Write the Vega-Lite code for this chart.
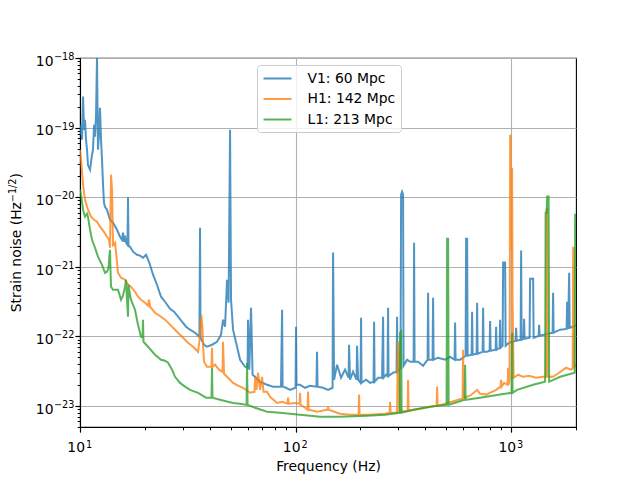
{
  "$schema": "https://vega.github.io/schema/vega-lite/v6.json",
  "width": 496,
  "height": 369,
  "autosize": {"type": "none"},
  "padding": {"left": 80, "top": 58, "right": 64, "bottom": 53},
  "datasets": {
    "asd": [
      {"d":"V1","f":10.0,"s":7.9e-20},{"d":"V1","f":10.11,"s":1.1e-19},{"d":"V1","f":10.22,"s":6.7e-20},{"d":"V1","f":10.33,"s":2.8e-19},
      {"d":"V1","f":10.44,"s":9.3e-20},{"d":"V1","f":10.55,"s":1.3e-19},{"d":"V1","f":10.66,"s":6.7e-20},{"d":"V1","f":10.78,"s":4.8e-20},
      {"d":"V1","f":10.89,"s":2.9e-20},{"d":"V1","f":11.13,"s":2.48e-20},{"d":"V1","f":11.37,"s":4.08e-20},{"d":"V1","f":11.49,"s":4.8e-20},
      {"d":"V1","f":11.62,"s":1.1e-19},{"d":"V1","f":11.74,"s":7.39e-20},{"d":"V1","f":11.87,"s":1.53e-19},{"d":"V1","f":11.99,"s":1e-18},
      {"d":"V1","f":12.12,"s":4.8e-20},{"d":"V1","f":12.25,"s":7.9e-20},{"d":"V1","f":12.38,"s":1.93e-19},{"d":"V1","f":12.52,"s":6.7e-20},
      {"d":"V1","f":12.65,"s":3.46e-20},{"d":"V1","f":12.79,"s":1.51e-20},{"d":"V1","f":12.92,"s":8.34e-21},{"d":"V1","f":13.06,"s":7.3e-21},
      {"d":"V1","f":13.34,"s":6.61e-21},{"d":"V1","f":13.78,"s":4.75e-21},{"d":"V1","f":14.23,"s":4.3e-21},{"d":"V1","f":14.85,"s":3.41e-21},
      {"d":"V1","f":15.33,"s":2.71e-21},{"d":"V1","f":15.66,"s":2.45e-21},{"d":"V1","f":15.83,"s":3.09e-21},{"d":"V1","f":16.01,"s":2.29e-21},
      {"d":"V1","f":16.18,"s":2.8e-21},{"d":"V1","f":16.35,"s":2.22e-21},{"d":"V1","f":16.61,"s":2.07e-21},{"d":"V1","f":16.7,"s":1e-20},
      {"d":"V1","f":16.79,"s":2.01e-21},{"d":"V1","f":17.06,"s":1.94e-21},{"d":"V1","f":17.62,"s":1.65e-21},{"d":"V1","f":18.39,"s":1.49e-21},
      {"d":"V1","f":18.98,"s":1.45e-21},{"d":"V1","f":19.6,"s":1.35e-21},{"d":"V1","f":20.25,"s":1.49e-21},{"d":"V1","f":20.9,"s":1.18e-21},
      {"d":"V1","f":21.82,"s":7.7e-22},{"d":"V1","f":22.76,"s":5.53e-22},{"d":"V1","f":23.76,"s":3.72e-22},{"d":"V1","f":24.8,"s":3.15e-22},
      {"d":"V1","f":26.16,"s":2.5e-22},{"d":"V1","f":27.31,"s":2.27e-22},{"d":"V1","f":28.5,"s":1.92e-22},{"d":"V1","f":29.73,"s":1.63e-22},
      {"d":"V1","f":31.04,"s":1.38e-22},{"d":"V1","f":32.39,"s":1.25e-22},{"d":"V1","f":34.17,"s":1.13e-22},{"d":"V1","f":35.8,"s":9.9e-23},
      {"d":"V1","f":36.05,"s":3.64e-21},{"d":"V1","f":36.25,"s":9.57e-23},{"d":"V1","f":37.62,"s":7.6e-23},{"d":"V1","f":38.84,"s":7.11e-23},
      {"d":"V1","f":40.97,"s":7.6e-23},{"d":"V1","f":43.22,"s":8.39e-23},{"d":"V1","f":45.11,"s":1.06e-22},{"d":"V1","f":46.08,"s":1.74e-22},
      {"d":"V1","f":47.08,"s":1.38e-22},{"d":"V1","f":48.1,"s":6.53e-22},{"d":"V1","f":48.9,"s":3.05e-22},{"d":"V1","f":49.67,"s":9.33e-20},
      {"d":"V1","f":50.2,"s":3.37e-22},{"d":"V1","f":51.29,"s":1.25e-22},{"d":"V1","f":53.53,"s":7.11e-23},{"d":"V1","f":55.28,"s":4.63e-23},
      {"d":"V1","f":58.31,"s":3.67e-23},{"d":"V1","f":59.9,"s":3.55e-23},{"d":"V1","f":60.2,"s":1.74e-22},{"d":"V1","f":61.0,"s":3.33e-23},
      {"d":"V1","f":62.15,"s":2.58e-22},{"d":"V1","f":63.2,"s":2.82e-23},{"d":"V1","f":65.58,"s":2.55e-23},{"d":"V1","f":68.45,"s":2.23e-23},
      {"d":"V1","f":73.76,"s":2.02e-23},{"d":"V1","f":78.64,"s":1.9e-23},{"d":"V1","f":85.6,"s":1.9e-23},{"d":"V1","f":86.6,"s":2.42e-22},
      {"d":"V1","f":87.1,"s":1.9e-23},{"d":"V1","f":90.35,"s":1.83e-23},{"d":"V1","f":94.3,"s":1.71e-23},{"d":"V1","f":100.0,"s":1.83e-23},
      {"d":"V1","f":100.5,"s":1.38e-22},{"d":"V1","f":101.0,"s":2.02e-23},{"d":"V1","f":104.9,"s":2.02e-23},{"d":"V1","f":110.7,"s":1.83e-23},
      {"d":"V1","f":116.8,"s":1.96e-23},{"d":"V1","f":125.0,"s":1.9e-23},{"d":"V1","f":125.8,"s":6.02e-23},{"d":"V1","f":126.5,"s":1.9e-23},
      {"d":"V1","f":134.2,"s":1.83e-23},{"d":"V1","f":141.5,"s":1.71e-23},{"d":"V1","f":148.5,"s":1.83e-23},{"d":"V1","f":149.3,"s":1.6e-21},
      {"d":"V1","f":150.9,"s":2.39e-23},{"d":"V1","f":155.8,"s":3.92e-23},{"d":"V1","f":162.6,"s":2.55e-23},{"d":"V1","f":169.7,"s":3.33e-23},
      {"d":"V1","f":176.3,"s":2.55e-23},{"d":"V1","f":177.1,"s":7.6e-23},{"d":"V1","f":179.0,"s":2.39e-23},{"d":"V1","f":184.8,"s":3.11e-23},
      {"d":"V1","f":191.9,"s":2.39e-23},{"d":"V1","f":192.9,"s":7.35e-23},{"d":"V1","f":195.0,"s":2.39e-23},{"d":"V1","f":200.2,"s":2.15e-23},
      {"d":"V1","f":201.3,"s":1.86e-22},{"d":"V1","f":202.4,"s":2.15e-23},{"d":"V1","f":212.4,"s":2.39e-23},{"d":"V1","f":221.7,"s":2.15e-23},
      {"d":"V1","f":230.1,"s":2.23e-23},{"d":"V1","f":231.4,"s":1.63e-22},{"d":"V1","f":232.6,"s":2.23e-23},{"d":"V1","f":241.4,"s":2.55e-23},
      {"d":"V1","f":251.9,"s":2.55e-23},{"d":"V1","f":254.7,"s":1.92e-22},{"d":"V1","f":256.0,"s":2.55e-23},{"d":"V1","f":263.0,"s":2.82e-23},
      {"d":"V1","f":267.0,"s":2.7e-23},{"d":"V1","f":268.7,"s":2.58e-22},{"d":"V1","f":270.0,"s":2.7e-23},{"d":"V1","f":283.5,"s":3.01e-23},
      {"d":"V1","f":294.2,"s":3.1e-23},{"d":"V1","f":295.8,"s":1.92e-22},{"d":"V1","f":297.4,"s":3.1e-23},{"d":"V1","f":307.0,"s":3.55e-23},
      {"d":"V1","f":308.8,"s":1.1e-20},{"d":"V1","f":312.1,"s":1.2e-20},{"d":"V1","f":315.4,"s":1.1e-20},{"d":"V1","f":317.0,"s":3.79e-23},
      {"d":"V1","f":329.2,"s":4.63e-23},{"d":"V1","f":339.9,"s":4.33e-23},{"d":"V1","f":353.0,"s":4.33e-23},{"d":"V1","f":354.7,"s":2.22e-21},
      {"d":"V1","f":356.6,"s":4.33e-23},{"d":"V1","f":370.2,"s":4.33e-23},{"d":"V1","f":390.5,"s":3.79e-23},{"d":"V1","f":409.8,"s":4.63e-23},
      {"d":"V1","f":412.0,"s":4.24e-22},{"d":"V1","f":414.2,"s":4.63e-23},{"d":"V1","f":432.0,"s":4.63e-23},{"d":"V1","f":434.6,"s":3.6e-22},
      {"d":"V1","f":437.0,"s":4.63e-23},{"d":"V1","f":458.5,"s":4.95e-23},{"d":"V1","f":494.0,"s":4.63e-23},{"d":"V1","f":521.2,"s":5.1e-23},
      {"d":"V1","f":546.8,"s":4.63e-23},{"d":"V1","f":549.7,"s":1.58e-22},{"d":"V1","f":552.6,"s":4.63e-23},{"d":"V1","f":579.9,"s":4.63e-23},
      {"d":"V1","f":615.0,"s":5.28e-23},{"d":"V1","f":618.4,"s":2.53e-21},{"d":"V1","f":625.1,"s":2.53e-21},{"d":"V1","f":628.4,"s":5.28e-23},
      {"d":"V1","f":655.8,"s":5.47e-23},{"d":"V1","f":659.3,"s":2.27e-22},{"d":"V1","f":663.0,"s":5.47e-23},{"d":"V1","f":691.8,"s":5.65e-23},
      {"d":"V1","f":695.5,"s":3.05e-22},{"d":"V1","f":699.2,"s":5.65e-23},{"d":"V1","f":737.6,"s":6.02e-23},{"d":"V1","f":741.5,"s":2.58e-22},
      {"d":"V1","f":745.5,"s":6.02e-23},{"d":"V1","f":773.9,"s":6.02e-23},{"d":"V1","f":794.8,"s":6.23e-23},{"d":"V1","f":799.0,"s":1.67e-22},
      {"d":"V1","f":803.4,"s":6.23e-23},{"d":"V1","f":847.6,"s":6.44e-23},{"d":"V1","f":852.0,"s":1.38e-22},{"d":"V1","f":856.6,"s":6.44e-23},
      {"d":"V1","f":884.4,"s":6.88e-23},{"d":"V1","f":889.2,"s":1.74e-22},{"d":"V1","f":894.0,"s":6.88e-23},{"d":"V1","f":913.3,"s":7.35e-23},
      {"d":"V1","f":918.3,"s":1.15e-21},{"d":"V1","f":938.0,"s":1.15e-21},{"d":"V1","f":943.0,"s":7.35e-23},{"d":"V1","f":978.8,"s":8.12e-23},
      {"d":"V1","f":1021.6,"s":8.39e-23},{"d":"V1","f":1049.3,"s":8.67e-23},{"d":"V1","f":1055,"s":1.33e-22},{"d":"V1","f":1060.6,"s":8.67e-23},
      {"d":"V1","f":1107,"s":8.96e-23},{"d":"V1","f":1113,"s":1.71e-21},{"d":"V1","f":1119,"s":8.96e-23},{"d":"V1","f":1143,"s":9.27e-23},
      {"d":"V1","f":1149,"s":1.8e-22},{"d":"V1","f":1155,"s":9.27e-23},{"d":"V1","f":1218,"s":9.57e-23},{"d":"V1","f":1225,"s":6.75e-22},
      {"d":"V1","f":1265,"s":6.75e-22},{"d":"V1","f":1272,"s":9.57e-23},{"d":"V1","f":1342,"s":1.02e-22},{"d":"V1","f":1349,"s":1.47e-22},
      {"d":"V1","f":1356,"s":1.02e-22},{"d":"V1","f":1485,"s":1.09e-22},{"d":"V1","f":1558,"s":1.13e-22},{"d":"V1","f":1566,"s":4.24e-22},
      {"d":"V1","f":1575,"s":1.13e-22},{"d":"V1","f":1688,"s":1.25e-22},{"d":"V1","f":1809,"s":1.28e-22},{"d":"V1","f":1819,"s":3.15e-22},
      {"d":"V1","f":1839,"s":1.28e-22},{"d":"V1","f":1859,"s":8.22e-22},{"d":"V1","f":1869,"s":1.33e-22},{"d":"V1","f":1941,"s":1.38e-22},
      {"d":"V1","f":2003,"s":1.47e-22},

      {"d":"H1","f":10.0,"s":4.81e-20},{"d":"H1","f":10.11,"s":3.46e-20},{"d":"H1","f":10.33,"s":1.51e-20},{"d":"H1","f":10.55,"s":9.2e-21},
      {"d":"H1","f":10.89,"s":6.61e-21},{"d":"H1","f":11.25,"s":5.25e-21},{"d":"H1","f":11.62,"s":4.75e-21},{"d":"H1","f":11.99,"s":4.45e-21},
      {"d":"H1","f":12.38,"s":3.77e-21},{"d":"H1","f":12.92,"s":3.19e-21},{"d":"H1","f":13.34,"s":2.71e-21},{"d":"H1","f":13.63,"s":2.45e-21},
      {"d":"H1","f":13.78,"s":1.88e-21},{"d":"H1","f":13.93,"s":2.11e-20},{"d":"H1","f":14.08,"s":1.28e-20},{"d":"H1","f":14.23,"s":2.07e-21},
      {"d":"H1","f":14.54,"s":2.22e-21},{"d":"H1","f":14.85,"s":1.18e-21},{"d":"H1","f":15.01,"s":8.22e-22},{"d":"H1","f":15.5,"s":6.97e-22},
      {"d":"H1","f":16.18,"s":6.53e-22},{"d":"H1","f":16.7,"s":5.53e-22},{"d":"H1","f":17.24,"s":5.18e-22},{"d":"H1","f":18.0,"s":4.39e-22},
      {"d":"H1","f":18.58,"s":3.72e-22},{"d":"H1","f":19.19,"s":3.37e-22},{"d":"H1","f":20.03,"s":3.05e-22},{"d":"H1","f":20.68,"s":2.76e-22},
      {"d":"H1","f":20.9,"s":3.37e-22},{"d":"H1","f":21.13,"s":2.67e-22},{"d":"H1","f":22.28,"s":2.19e-22},{"d":"H1","f":23.76,"s":1.92e-22},
      {"d":"H1","f":24.8,"s":1.74e-22},{"d":"H1","f":25.62,"s":1.58e-22},{"d":"H1","f":27.02,"s":1.33e-22},{"d":"H1","f":28.5,"s":1.13e-22},
      {"d":"H1","f":30.06,"s":9.57e-23},{"d":"H1","f":31.71,"s":8.12e-23},{"d":"H1","f":33.45,"s":7.11e-23},{"d":"H1","f":35.29,"s":6.02e-23},
      {"d":"H1","f":35.86,"s":8.96e-23},{"d":"H1","f":36.25,"s":1.74e-22},{"d":"H1","f":36.64,"s":1.86e-22},{"d":"H1","f":37.03,"s":1.25e-22},
      {"d":"H1","f":37.23,"s":7.6e-23},{"d":"H1","f":37.62,"s":4.33e-23},{"d":"H1","f":38.84,"s":3.67e-23},{"d":"H1","f":40.75,"s":3.67e-23},
      {"d":"H1","f":40.97,"s":6.88e-23},{"d":"H1","f":41.19,"s":3.67e-23},{"d":"H1","f":42.31,"s":3.92e-23},{"d":"H1","f":44.16,"s":3.33e-23},
      {"d":"H1","f":45.85,"s":3.11e-23},{"d":"H1","f":46.08,"s":8.39e-23},{"d":"H1","f":46.57,"s":2.91e-23},{"d":"H1","f":48.1,"s":2.63e-23},
      {"d":"H1","f":51.29,"s":2.15e-23},{"d":"H1","f":54.11,"s":1.96e-23},{"d":"H1","f":57.07,"s":1.83e-23},{"d":"H1","f":61.51,"s":1.55e-23},
      {"d":"H1","f":64.5,"s":1.6e-23},{"d":"H1","f":64.89,"s":2.63e-23},{"d":"H1","f":65.9,"s":1.71e-23},{"d":"H1","f":66.99,"s":3.01e-23},
      {"d":"H1","f":68.45,"s":1.71e-23},{"d":"H1","f":69.94,"s":2.63e-23},{"d":"H1","f":71.0,"s":1.6e-23},{"d":"H1","f":73.76,"s":1.6e-23},
      {"d":"H1","f":76.15,"s":1.36e-23},{"d":"H1","f":82.05,"s":1.11e-23},{"d":"H1","f":86.6,"s":1.15e-23},{"d":"H1","f":91.8,"s":1.08e-23},
      {"d":"H1","f":92.31,"s":1.32e-23},{"d":"H1","f":92.8,"s":1.08e-23},{"d":"H1","f":99.48,"s":1.11e-23},{"d":"H1","f":104.4,"s":1.08e-23},
      {"d":"H1","f":104.9,"s":1.55e-23},{"d":"H1","f":105.5,"s":1.04e-23},{"d":"H1","f":110.7,"s":9.45e-24},{"d":"H1","f":113.7,"s":8.85e-24},
      {"d":"H1","f":114.3,"s":1.61e-23},{"d":"H1","f":115.0,"s":8.85e-24},{"d":"H1","f":125.8,"s":8.28e-24},{"d":"H1","f":140.8,"s":8.85e-24},
      {"d":"H1","f":141.5,"s":9.77e-24},{"d":"H1","f":142.3,"s":8.85e-24},{"d":"H1","f":160.9,"s":7.75e-24},{"d":"H1","f":179.0,"s":7.5e-24},
      {"d":"H1","f":196.1,"s":7.5e-24},{"d":"H1","f":197.1,"s":1.46e-23},{"d":"H1","f":198.2,"s":7.5e-24},{"d":"H1","f":221.7,"s":7.5e-24},
      {"d":"H1","f":260.2,"s":7.75e-24},{"d":"H1","f":273.1,"s":8.01e-24},{"d":"H1","f":274.5,"s":1.15e-23},{"d":"H1","f":276.0,"s":8.01e-24},
      {"d":"H1","f":295.8,"s":8.01e-24},{"d":"H1","f":297.4,"s":4.63e-23},{"d":"H1","f":299.0,"s":8.39e-23},{"d":"H1","f":302.2,"s":4.63e-23},
      {"d":"H1","f":303.9,"s":8.28e-24},{"d":"H1","f":331.0,"s":8.56e-24},{"d":"H1","f":332.7,"s":2.39e-23},{"d":"H1","f":334.5,"s":8.56e-24},
      {"d":"H1","f":378.2,"s":9.15e-24},{"d":"H1","f":421.0,"s":9.77e-24},{"d":"H1","f":451.1,"s":1.01e-23},{"d":"H1","f":453.6,"s":1.9e-23},
      {"d":"H1","f":456.1,"s":1.01e-23},{"d":"H1","f":494.0,"s":1.08e-23},{"d":"H1","f":549.7,"s":1.19e-23},{"d":"H1","f":595.6,"s":1.28e-23},
      {"d":"H1","f":598.8,"s":6.44e-23},{"d":"H1","f":602.0,"s":1.32e-23},{"d":"H1","f":645.4,"s":1.41e-23},{"d":"H1","f":695.5,"s":1.71e-23},
      {"d":"H1","f":718.0,"s":1.5e-23},{"d":"H1","f":765.6,"s":1.46e-23},{"d":"H1","f":852.0,"s":1.71e-23},{"d":"H1","f":894.0,"s":1.9e-23},
      {"d":"H1","f":898.7,"s":2.39e-23},{"d":"H1","f":903.5,"s":1.9e-23},{"d":"H1","f":928.1,"s":2.15e-23},{"d":"H1","f":963.2,"s":2.02e-23},
      {"d":"H1","f":968.5,"s":3.55e-23},{"d":"H1","f":973.6,"s":2.02e-23},{"d":"H1","f":984.1,"s":2.39e-23},{"d":"H1","f":989.5,"s":7.91e-20},
      {"d":"H1","f":994.7,"s":7.39e-20},{"d":"H1","f":1000,"s":1.76e-21},{"d":"H1","f":1005.4,"s":2.48e-20},{"d":"H1","f":1010.7,"s":2.65e-20},
      {"d":"H1","f":1016,"s":3.37e-22},{"d":"H1","f":1027,"s":2.55e-23},{"d":"H1","f":1078,"s":2.82e-23},{"d":"H1","f":1137,"s":2.63e-23},
      {"d":"H1","f":1212,"s":2.73e-23},{"d":"H1","f":1306,"s":2.55e-23},{"d":"H1","f":1408,"s":2.63e-23},{"d":"H1","f":1453,"s":2.63e-23},
      {"d":"H1","f":1461,"s":6.61e-21},{"d":"H1","f":1469,"s":7.07e-21},{"d":"H1","f":1477,"s":2.63e-23},{"d":"H1","f":1566,"s":2.63e-23},
      {"d":"H1","f":1670,"s":3.01e-23},{"d":"H1","f":1800,"s":3.55e-23},{"d":"H1","f":1898,"s":3.33e-23},{"d":"H1","f":1930,"s":3.44e-23},
      {"d":"H1","f":1941,"s":1.94e-21},{"d":"H1","f":1951,"s":1.76e-21},{"d":"H1","f":1961,"s":3.55e-23},{"d":"H1","f":2003,"s":4.05e-23},

      {"d":"L1","f":10.0,"s":1.28e-20},{"d":"L1","f":10.11,"s":1.08e-20},{"d":"L1","f":10.33,"s":6.61e-21},{"d":"L1","f":10.55,"s":5.25e-21},
      {"d":"L1","f":10.78,"s":5.8e-21},{"d":"L1","f":10.89,"s":5.25e-21},{"d":"L1","f":11.13,"s":3.41e-21},{"d":"L1","f":11.37,"s":2.45e-21},
      {"d":"L1","f":11.74,"s":1.88e-21},{"d":"L1","f":12.12,"s":1.4e-21},{"d":"L1","f":12.65,"s":1.07e-21},{"d":"L1","f":13.06,"s":8.22e-22},
      {"d":"L1","f":13.34,"s":8.5e-22},{"d":"L1","f":13.56,"s":9.7e-22},{"d":"L1","f":13.7,"s":1.49e-21},{"d":"L1","f":13.78,"s":1.76e-21},
      {"d":"L1","f":13.85,"s":9.09e-22},{"d":"L1","f":13.93,"s":5.18e-22},{"d":"L1","f":14.23,"s":4.69e-22},{"d":"L1","f":14.69,"s":4.69e-22},
      {"d":"L1","f":15.01,"s":4.69e-22},{"d":"L1","f":15.5,"s":3.37e-22},{"d":"L1","f":15.83,"s":3.85e-22},{"d":"L1","f":16.18,"s":5.18e-22},
      {"d":"L1","f":16.35,"s":6.53e-22},{"d":"L1","f":16.52,"s":3.37e-22},{"d":"L1","f":16.7,"s":1.92e-22},{"d":"L1","f":16.79,"s":5.53e-22},
      {"d":"L1","f":17.06,"s":3.97e-22},{"d":"L1","f":17.24,"s":3.37e-22},{"d":"L1","f":17.62,"s":2.85e-22},{"d":"L1","f":18.0,"s":2.42e-22},
      {"d":"L1","f":18.58,"s":1.47e-22},{"d":"L1","f":19.19,"s":9.9e-23},{"d":"L1","f":19.5,"s":9.57e-23},{"d":"L1","f":19.6,"s":1.74e-22},
      {"d":"L1","f":19.7,"s":8.39e-23},{"d":"L1","f":20.68,"s":7.11e-23},{"d":"L1","f":22.28,"s":5.47e-23},{"d":"L1","f":23.76,"s":4.63e-23},
      {"d":"L1","f":24.8,"s":4.48e-23},{"d":"L1","f":25.62,"s":4.19e-23},{"d":"L1","f":26.73,"s":3.33e-23},{"d":"L1","f":27.6,"s":2.63e-23},
      {"d":"L1","f":29.11,"s":2.15e-23},{"d":"L1","f":30.71,"s":1.9e-23},{"d":"L1","f":32.39,"s":1.71e-23},{"d":"L1","f":35.29,"s":1.55e-23},
      {"d":"L1","f":38.43,"s":1.32e-23},{"d":"L1","f":40.75,"s":1.32e-23},{"d":"L1","f":40.97,"s":3.55e-23},{"d":"L1","f":41.19,"s":1.32e-23},
      {"d":"L1","f":44.63,"s":1.23e-23},{"d":"L1","f":48.62,"s":1.15e-23},{"d":"L1","f":51.29,"s":1.11e-23},{"d":"L1","f":55.28,"s":1.08e-23},
      {"d":"L1","f":59.26,"s":1.04e-23},{"d":"L1","f":59.57,"s":4.19e-23},{"d":"L1","f":59.9,"s":1.04e-23},{"d":"L1","f":64.89,"s":9.45e-24},
      {"d":"L1","f":73.76,"s":8.28e-24},{"d":"L1","f":84.76,"s":8.01e-24},{"d":"L1","f":104.9,"s":7.5e-24},{"d":"L1","f":129.9,"s":7.02e-24},
      {"d":"L1","f":160.9,"s":7.02e-24},{"d":"L1","f":214.7,"s":7.25e-24},{"d":"L1","f":260.2,"s":7.5e-24},{"d":"L1","f":303.9,"s":8.01e-24},
      {"d":"L1","f":305.5,"s":1.13e-22},{"d":"L1","f":308.8,"s":1.17e-22},{"d":"L1","f":310.5,"s":8.01e-24},{"d":"L1","f":351.0,"s":8.85e-24},
      {"d":"L1","f":421.0,"s":9.77e-24},{"d":"L1","f":502.0,"s":1.04e-23},{"d":"L1","f":504.7,"s":2.53e-21},{"d":"L1","f":510.2,"s":2.53e-21},
      {"d":"L1","f":513.0,"s":1.04e-23},{"d":"L1","f":608.5,"s":1.23e-23},{"d":"L1","f":611.8,"s":3.92e-23},{"d":"L1","f":615.1,"s":1.23e-23},
      {"d":"L1","f":718.0,"s":1.32e-23},{"d":"L1","f":889.2,"s":1.46e-23},{"d":"L1","f":1005.4,"s":1.55e-23},{"d":"L1","f":1010.7,"s":1.13e-22},
      {"d":"L1","f":1016,"s":1.55e-23},{"d":"L1","f":1066,"s":1.71e-23},{"d":"L1","f":1265,"s":2.02e-23},{"d":"L1","f":1438,"s":2.23e-23},
      {"d":"L1","f":1446,"s":5.98e-21},{"d":"L1","f":1461,"s":5.98e-21},{"d":"L1","f":1469,"s":1.02e-20},{"d":"L1","f":1493,"s":1.02e-20},
      {"d":"L1","f":1501,"s":2.23e-23},{"d":"L1","f":1688,"s":2.63e-23},{"d":"L1","f":1972,"s":3.01e-23},{"d":"L1","f":1982,"s":5.6e-21},
      {"d":"L1","f":2003,"s":5.6e-21}
    ]
  },
  "data": {"name": "asd"},
  "layer": [
    {
      "mark": {"type": "point", "opacity": 0},
      "encoding": {
        "x": {
          "field": "f",
          "type": "quantitative",
          "scale": {"type": "log", "domain": [10, 2000], "nice": false},
          "axis": {
            "orient": "bottom",
            "values": [20, 30, 40, 50, 60, 70, 80, 90, 200, 300, 400, 500, 600, 700, 800, 900, 2000],
            "labels": false,
            "grid": false,
            "domain": false,
            "tickSize": 2.8,
            "tickWidth": 1,
            "title": null
          }
        },
        "y": {
          "field": "s",
          "type": "quantitative",
          "scale": {"type": "log", "domain": [5e-24, 1e-18], "nice": false},
          "axis": {
            "orient": "left",
            "values": [5e-24, 6e-24, 7e-24, 8e-24, 9e-24,
                       2e-23, 3e-23, 4e-23, 5e-23, 6e-23, 7e-23, 8e-23, 9e-23,
                       2e-22, 3e-22, 4e-22, 5e-22, 6e-22, 7e-22, 8e-22, 9e-22,
                       2e-21, 3e-21, 4e-21, 5e-21, 6e-21, 7e-21, 8e-21, 9e-21,
                       2e-20, 3e-20, 4e-20, 5e-20, 6e-20, 7e-20, 8e-20, 9e-20,
                       2e-19, 3e-19, 4e-19, 5e-19, 6e-19, 7e-19, 8e-19, 9e-19],
            "labels": false,
            "grid": false,
            "domain": false,
            "tickSize": 2.8,
            "tickWidth": 1,
            "title": ")",
            "titleX": -60,
            "titleY": 120,
            "titleAngle": -90,
            "titleAlign": "left",
            "titleBaseline": "alphabetic"
          }
        }
      }
    },
    {
      "mark": {"type": "line", "strokeWidth": 2, "opacity": 0.78, "clip": true},
      "encoding": {
        "x": {
          "field": "f",
          "type": "quantitative",
          "scale": {"type": "log", "domain": [10, 2000], "nice": false},
          "axis": {
            "orient": "bottom",
            "values": [10, 100, 1000],
            "labelExpr": "'10'",
            "labelAlign": "right",
            "labelBaseline": "alphabetic",
            "labelOffset": 4.5,
            "labelPadding": 19.6,
            "tickSize": 4.9,
            "tickWidth": 1.1,
            "grid": true,
            "title": "Frequency (Hz)",
            "titleX": 248,
            "titleY": 43,
            "titleBaseline": "alphabetic"
          }
        },
        "y": {
          "field": "s",
          "type": "quantitative",
          "scale": {"type": "log", "domain": [5e-24, 1e-18], "nice": false},
          "axis": {
            "orient": "left",
            "values": [1e-23, 1e-22, 1e-21, 1e-20, 1e-19, 1e-18],
            "labelExpr": "'10'",
            "labelAlign": "right",
            "labelBaseline": "alphabetic",
            "labelOffset": 7.3,
            "labelPadding": 22.1,
            "tickSize": 4.9,
            "tickWidth": 1.1,
            "grid": true,
            "title": "Strain noise (Hz",
            "titleX": -60,
            "titleY": 253.7,
            "titleAngle": -90,
            "titleAlign": "left",
            "titleBaseline": "alphabetic"
          }
        },
        "color": {
          "field": "d",
          "type": "nominal",
          "scale": {"domain": ["V1", "H1", "L1"], "range": ["#1f77b4", "#ff7f0e", "#2ca02c"]},
          "legend": {
            "orient": "none",
            "legendX": 177,
            "legendY": 7,
            "title": null,
            "labelExpr": "datum.label == 'V1' ? 'V1: 60 Mpc' : datum.label == 'H1' ? 'H1: 142 Mpc' : 'L1: 213 Mpc'",
            "symbolType": "M-2,0H2",
            "symbolSize": 196,
            "symbolStrokeWidth": 2,
            "symbolOpacity": 0.78,
            "symbolOffset": 7,
            "labelOffset": 22,
            "labelFontSize": 13.9,
            "labelColor": "black",
            "rowPadding": 5.5,
            "padding": 5.5,
            "fillColor": "rgba(255,255,255,0.8)",
            "strokeColor": "#cccccc",
            "cornerRadius": 3
          }
        }
      }
    },
    {
      "mark": {"type": "point", "opacity": 0},
      "encoding": {
        "x": {
          "field": "f",
          "type": "quantitative",
          "scale": {"type": "log", "domain": [10, 2000], "nice": false},
          "axis": {
            "orient": "bottom",
            "values": [10, 100, 1000],
            "labelExpr": "['1','2','3'][round(log(datum.value)/LN10) - 1]",
            "labelAlign": "left",
            "labelBaseline": "alphabetic",
            "labelOffset": 5.5,
            "labelPadding": 15.6,
            "labelFontSize": 9.7,
            "tickSize": 4.9,
            "tickWidth": 1.1,
            "grid": false,
            "domain": false,
            "title": null
          }
        },
        "y": {
          "field": "s",
          "type": "quantitative",
          "scale": {"type": "log", "domain": [5e-24, 1e-18], "nice": false},
          "axis": {
            "orient": "left",
            "values": [1e-23, 1e-22, 1e-21, 1e-20, 1e-19, 1e-18],
            "labelExpr": "'−' + round(-log(datum.value)/LN10)",
            "labelAlign": "left",
            "labelBaseline": "alphabetic",
            "labelOffset": 1.5,
            "labelPadding": 21.6,
            "labelFontSize": 9.7,
            "tickSize": 4.9,
            "tickWidth": 1.1,
            "grid": false,
            "domain": false,
            "title": "−1/2",
            "titleFontSize": 9.7,
            "titleX": -65,
            "titleY": 143.7,
            "titleAngle": -90,
            "titleAlign": "left",
            "titleBaseline": "alphabetic"
          }
        }
      }
    }
  ],
  "resolve": {"axis": {"x": "independent", "y": "independent"}},
  "config": {
    "font": "DejaVu Sans",
    "view": {"stroke": "black", "strokeWidth": 1.1},
    "axis": {
      "labelFont": "DejaVu Sans",
      "titleFont": "DejaVu Sans",
      "labelFontSize": 13.9,
      "titleFontSize": 13.9,
      "titleFontWeight": "normal",
      "labelColor": "black",
      "titleColor": "black",
      "tickColor": "black",
      "domainColor": "black",
      "domainWidth": 1.1,
      "gridColor": "#b0b0b0",
      "gridWidth": 1.1
    },
    "legend": {"labelFont": "DejaVu Sans"}
  }
}
